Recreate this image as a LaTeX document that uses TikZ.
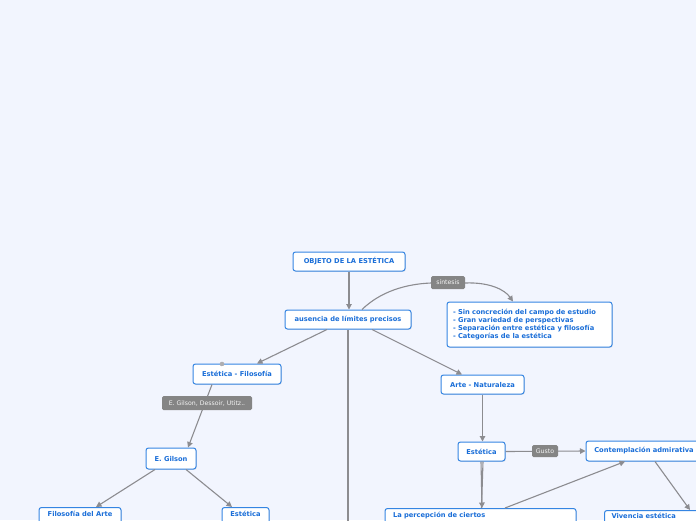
\documentclass[tikz,border=0pt]{standalone}
\usepackage{fontspec}
\setmainfont{DejaVu Sans}
\usetikzlibrary{arrows.meta,shadows}
\definecolor{bgc}{HTML}{F2F5FE}
\definecolor{txtb}{HTML}{1A6ED8}
\definecolor{brdb}{HTML}{3585E2}
\definecolor{edgeg}{HTML}{8C8C90}
\definecolor{lblg}{HTML}{858585}
\tikzset{
  topic/.style={draw=brdb, line width=1pt, fill=white, rounded corners=2.5pt,
    font=\fontsize{6.7}{7.9}\selectfont\bfseries, text=txtb, inner sep=0pt,
    drop shadow={shadow xshift=0.8pt, shadow yshift=-0.8pt, opacity=0.18}},
  lbl/.style={fill=lblg, rounded corners=1.5pt, text=white!92!gray,
    font=\fontsize{6.2}{7}\selectfont, inner sep=0pt},
  conn/.style={draw=edgeg, line width=1.1pt},
  arr/.style={conn, -{Triangle[length=5.5pt,width=5.5pt]}}
}
\begin{document}
\begin{tikzpicture}[x=1pt,y=-1pt]
\useasboundingbox (0,0) rectangle (696,520);
\fill[bgc] (0,0) rectangle (696,520);
\clip (0,0) rectangle (696,520);

% nodes
\node[topic, minimum width=112, minimum height=19] (obj) at (349,261.5) {OBJETO DE LA ESTÉTICA};
\node[topic, minimum width=126, minimum height=19] (aus) at (348,319.5) {ausencia de límites precisos};
\node[topic, minimum width=165, minimum height=45, align=left, text width=153] (lst) at (529.5,324.5)
  {- Sin concreción del campo de estudio\\- Gran variedad de perspectivas\\- Separación entre estética y filosofía\\- Categorías de la estética};
\node[topic, minimum width=88, minimum height=20] (ef) at (237,374) {Estética - Filosofía};
\node[topic, minimum width=83, minimum height=19] (an) at (482.5,384.5) {Arte - Naturaleza};
\node[topic, minimum width=47, minimum height=19] (estR) at (481.5,451.5) {Estética};
\node[topic, minimum width=116, minimum height=20] (cont) at (644,451) {Contemplación admirativa};
\node[topic, minimum width=50, minimum height=21] (gil) at (171,458.5) {E. Gilson};
\node[topic, anchor=north, minimum width=82, minimum height=30, text height=5pt, text depth=18pt] (fda) at (80,507) {Filosofía del Arte};
\node[topic, anchor=north, minimum width=47, minimum height=30, text height=5pt, text depth=18pt] (estL) at (245.5,507) {Estética};
\node[topic, anchor=north, minimum width=191, minimum height=30, text width=175, align=left, text height=5pt, text depth=18pt] (perc) at (480.5,508) {La percepción de ciertos};
\node[topic, anchor=north west, minimum width=100, minimum height=30, text width=86, align=left, text height=4pt, text depth=18pt] (viv) at (604,510) {\hspace*{0pt}Vivencia estética};

% connectors
\draw[arr] (obj.south) -- (aus.north -| obj.south);
\draw[conn] (aus.north -| 362,0) .. controls (380,292) and (405,284) .. (431,283);
\draw[arr] (465,283) .. controls (490,282) and (505,290) .. (lst.north -| 513,0);
\draw[arr] (aus.south -| 327,0) -- (ef.north -| 257,0);
\draw[arr] (aus.south -| 372,0) -- (an.north -| 462,0);
\draw[conn] (aus.south) -- (348,530);
\draw[arr] (ef.south -| 212,0) -- (gil.north -| 188,0);
\draw[arr] (an.south) -- (estR.north -| an.south);
\draw[arr] (estR.east) -- (cont.west);
\draw[arr] (estR.south -| 481,0) -- (perc.north -| 482,0);
\draw[conn] (estR.south -| 483,0) -- (perc.north -| 481.5,0);
\draw[arr] (perc.north -| 505,0) -- (cont.south -| 625,0);
\draw[arr] (cont.south -| 655,0) -- (viv.north -| 690,0);
\draw[arr] (gil.south -| 155,0) -- (fda.north -| 96,0);
\draw[arr] (gil.south -| 186,0) -- (estL.north -| 232,0);

% handle
\fill[edgeg!70] (222,364) circle (2.3);
\fill[white] (222,365.5) rectangle (226,367);

% labels
\node[lbl, minimum width=34, minimum height=13] (sint) at (448,282.5) {síntesis};
\node[lbl, minimum width=90, minimum height=14] (gdu) at (207,403) {E. Gilson, Dessoir, Utitz..};
\node[lbl, minimum width=26, minimum height=12] (gus) at (545,451) {Gusto};
\end{tikzpicture}
\end{document}
